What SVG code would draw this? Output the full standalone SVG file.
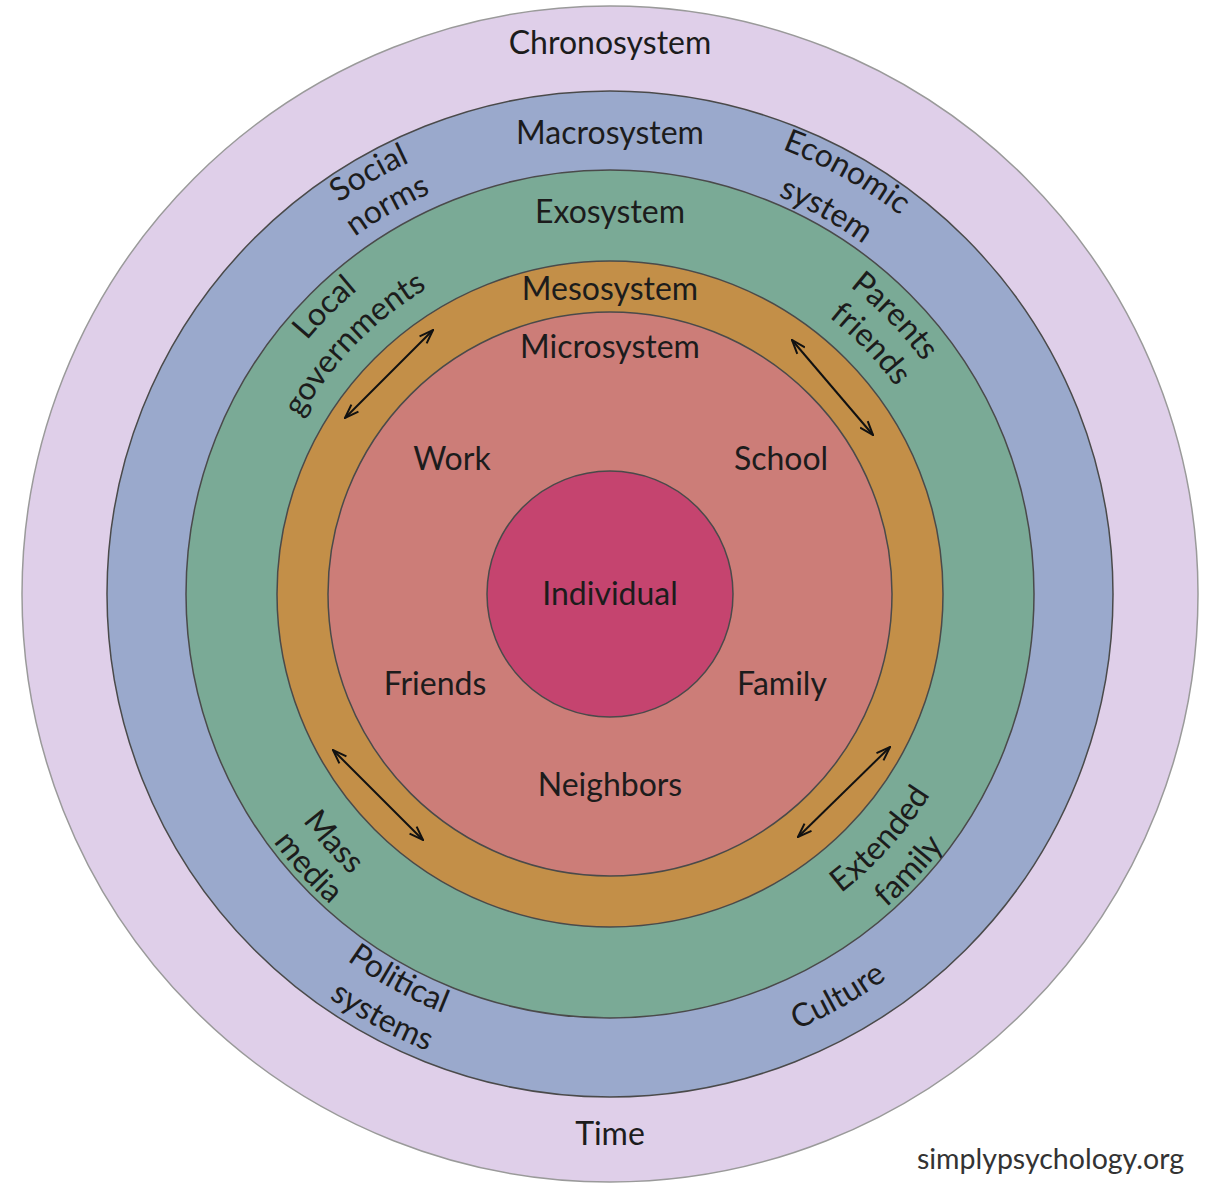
<svg xmlns="http://www.w3.org/2000/svg" xmlns:xlink="http://www.w3.org/1999/xlink" width="1221" height="1200" viewBox="0 0 1221 1200">
<style>
  .ring { stroke: #4a4a4a; stroke-width: 1.5; }
  .lbl { font-family: "Lato", "Open Sans", sans-serif; font-size: 32px; fill: #1c1c1c; }
  .mid { text-anchor: middle; }
  .arrow { stroke: #111; stroke-width: 2; fill: none; marker-start: url(#ah); marker-end: url(#ah); }
</style>
<defs>
  <marker id="ah" viewBox="0 0 16 12" refX="15" refY="6" markerWidth="16" markerHeight="12" markerUnits="userSpaceOnUse" orient="auto-start-reverse">
    <path d="M1,1 L15,6 L1,11" fill="none" stroke="#111" stroke-width="2"/>
  </marker>
  <!-- upper arcs (clockwise, centered at top) -->
  <path id="u476" d="M197.8,356 A476,476 0 0 1 1022.2,356"/>
  <path id="u439" d="M229.8,374.5 A439,439 0 0 1 990.2,374.5"/>
  <path id="u477" d="M196.9,355.5 A477,477 0 0 1 1023.1,355.5"/>
  <path id="u432" d="M235.9,378 A432,432 0 0 1 984.1,378"/>
  <path id="u395" d="M267.9,396.5 A395,395 0 0 1 952.1,396.5"/>
  <path id="u356" d="M301.7,416 A356,356 0 0 1 918.3,416"/>
  <path id="u390" d="M272.3,399 A390,390 0 0 1 947.7,399"/>
  <path id="u353" d="M304.3,417.5 A353,353 0 0 1 915.7,417.5"/>
  <!-- lower arcs (counter-clockwise, centered at bottom) -->
  <path id="l451" d="M219.4,819.5 A451,451 0 0 0 1000.6,819.5"/>
  <path id="l492" d="M183.9,840 A492,492 0 0 0 1036.1,840"/>
  <path id="l474" d="M199.5,831 A474,474 0 0 0 1020.5,831"/>
  <path id="l378" d="M282.7,783 A378,378 0 0 0 937.3,783"/>
  <path id="l418" d="M248,803 A418,418 0 0 0 972,803"/>
  <path id="l382" d="M279.2,785 A382,382 0 0 0 940.8,785"/>
</defs>

<g id="chronosystem">
  <circle class="ring" cx="610" cy="594" r="588" fill="#dfcfe9" style="stroke:#9a9a9a"/>
  <text class="lbl mid" x="610" y="54">Chronosystem</text>
  <text class="lbl mid" x="610" y="1145">Time</text>
</g>

<g id="macrosystem">
  <circle class="ring" cx="610" cy="594" r="503" fill="#9aa9cc"/>
  <text class="lbl mid" x="610" y="144">Macrosystem</text>
  <text class="lbl mid" transform="rotate(-29.8 610 594)"><textPath xlink:href="#u476" href="#u476" startOffset="50%">Social</textPath></text>
  <text class="lbl mid" transform="rotate(-29.8 610 594)"><textPath xlink:href="#u439" href="#u439" startOffset="50%">norms</textPath></text>
  <text class="lbl mid" transform="rotate(29.3 610 594)"><textPath xlink:href="#u477" href="#u477" startOffset="50%">Economic</textPath></text>
  <text class="lbl mid" transform="rotate(29.4 610 594)"><textPath xlink:href="#u432" href="#u432" startOffset="50%">system</textPath></text>
  <text class="lbl mid" transform="rotate(28.7 610 594)"><textPath xlink:href="#l451" href="#l451" startOffset="50%">Political</textPath></text>
  <text class="lbl mid" transform="rotate(28.3 610 594)"><textPath xlink:href="#l492" href="#l492" startOffset="50%">systems</textPath></text>
  <text class="lbl mid" transform="rotate(-29.5 610 594)"><textPath xlink:href="#l474" href="#l474" startOffset="50%">Culture</textPath></text>
</g>

<g id="exosystem">
  <circle class="ring" cx="610" cy="594" r="424" fill="#7aaa96"/>
  <text class="lbl mid" x="610" y="223">Exosystem</text>
  <text class="lbl mid" transform="rotate(-44.9 610 594)"><textPath xlink:href="#u395" href="#u395" startOffset="50%">Local</textPath></text>
  <text class="lbl mid" transform="rotate(-45.6 610 594)"><textPath xlink:href="#u356" href="#u356" startOffset="50%">governments</textPath></text>
  <text class="lbl mid" transform="rotate(45.7 610 594)"><textPath xlink:href="#u390" href="#u390" startOffset="50%">Parents</textPath></text>
  <text class="lbl mid" transform="rotate(46.2 610 594)"><textPath xlink:href="#u353" href="#u353" startOffset="50%">friends</textPath></text>
  <text class="lbl mid" transform="rotate(-47.8 610 594)"><textPath xlink:href="#l378" href="#l378" startOffset="50%">Extended</textPath></text>
  <text class="lbl mid" transform="rotate(-47.2 610 594)"><textPath xlink:href="#l418" href="#l418" startOffset="50%">family</textPath></text>
  <text class="lbl mid" transform="rotate(48.1 610 594)"><textPath xlink:href="#l382" href="#l382" startOffset="50%">Mass</textPath></text>
  <text class="lbl mid" transform="rotate(47.8 610 594)"><textPath xlink:href="#l418" href="#l418" startOffset="50%">media</textPath></text>
</g>

<g id="mesosystem">
  <circle class="ring" cx="610" cy="594" r="333" fill="#c38f48"/>
  <text class="lbl mid" x="610" y="300">Mesosystem</text>
</g>

<g id="microsystem">
  <circle class="ring" cx="610" cy="594" r="282" fill="#cc7d78"/>
  <text class="lbl mid" x="610" y="358">Microsystem</text>
  <text class="lbl mid" x="452" y="470">Work</text>
  <text class="lbl mid" x="781" y="470">School</text>
  <text class="lbl mid" x="435" y="695">Friends</text>
  <text class="lbl mid" x="782" y="695">Family</text>
  <text class="lbl mid" x="610" y="796">Neighbors</text>
</g>

<g id="individual">
  <circle class="ring" cx="610" cy="594" r="123" fill="#c5446f"/>
  <text class="lbl mid" x="610" y="605">Individual</text>
</g>

<g id="connectors">
  <line class="arrow" x1="345" y1="418" x2="433" y2="330"/>
  <line class="arrow" x1="792" y1="340" x2="873" y2="435"/>
  <line class="arrow" x1="333" y1="750" x2="423" y2="840"/>
  <line class="arrow" x1="798" y1="837" x2="890" y2="747"/>
</g>

<text id="credit" x="1184" y="1169" style="font-family:'Lato','Open Sans',sans-serif;font-size:28.5px;fill:#333;text-anchor:end">simplypsychology.org</text>
</svg>
